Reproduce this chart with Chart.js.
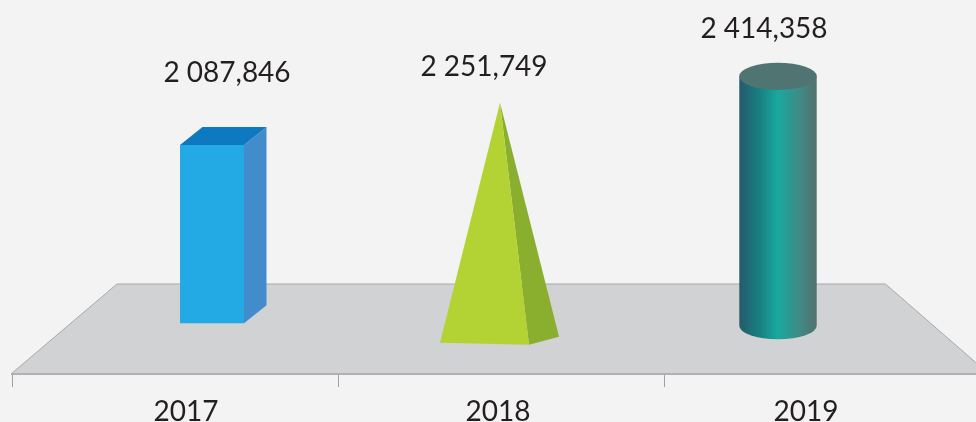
<!DOCTYPE html>
<html>
<head>
<meta charset="utf-8">
<style>
html,body{margin:0;padding:0;background:#f3f3f3;overflow:hidden}
#wrap{position:relative;width:976px;height:422px;overflow:hidden}
</style>
<script src="https://cdn.jsdelivr.net/npm/chart.js@4/dist/chart.umd.js"></script>
</head>
<body>
<div id="wrap"><canvas id="c" width="990" height="422"></canvas></div>
<script>
const categories = ["2017", "2018", "2019"];
const values = [2087.846, 2251.749, 2414.358];
const valueLabels = ["2 087,846", "2 251,749", "2 414,358"];

const FONT = "Lato, Carlito, 'Open Sans', sans-serif";
const TEXT = "#231f20";
// x shift of each shape / label relative to its category centre (perspective of the original)
const shapeDx = [37, -1, -49];
const tickLabelDx = [11, -3, -21];

function drawPoly(ctx, pts, fill) {
  ctx.beginPath();
  pts.forEach((p, i) => i ? ctx.lineTo(p[0], p[1]) : ctx.moveTo(p[0], p[1]));
  ctx.closePath();
  ctx.fillStyle = fill;
  ctx.fill();
}

const shapes = [
  function cuboid(ctx, x, top) {
    const l = x - 32, r = x + 32, bottom = 323.3, dx = 22.5, dy = 18;
    drawPoly(ctx, [[r, top], [r + dx, top - dy], [r + dx, bottom - dy], [r, bottom]], "#438ccb");
    drawPoly(ctx, [[l, top], [l + dx, top - dy], [r + dx, top - dy], [r, top]], "#0d79c0");
    drawPoly(ctx, [[l, top], [r, top], [r, bottom], [l, bottom]], "#23a9e3");
  },
  function pyramid(ctx, x, top) {
    const apex = top - 7;
    drawPoly(ctx, [[x, apex], [x + 59, 336.7], [x + 29, 344.7]], "#8aae2e");
    drawPoly(ctx, [[x, apex], [x + 29, 344.7], [x - 60, 342.7]], "#b3d334");
  },
  function cylinder(ctx, x, top) {
    const rx = 38.7, ry = 13.6, bottom = 325.7, cy = top + 1.3;
    const g = ctx.createLinearGradient(x - rx, 0, x + rx, 0);
    g.addColorStop(0, "#265a6d");
    g.addColorStop(0.26, "#177f80");
    g.addColorStop(0.5, "#19a99f");
    g.addColorStop(0.78, "#3f8a85");
    g.addColorStop(1, "#54706f");
    ctx.beginPath();
    ctx.moveTo(x - rx, cy);
    ctx.lineTo(x - rx, bottom);
    ctx.ellipse(x, bottom, rx, ry, 0, Math.PI, 0, true);
    ctx.lineTo(x + rx, cy);
    ctx.closePath();
    ctx.fillStyle = g;
    ctx.fill();
    ctx.beginPath();
    ctx.ellipse(x, cy, rx, ry, 0, 0, Math.PI * 2);
    ctx.fillStyle = "#4f7472";
    ctx.fill();
  }
];
// label centre relative to the shape's value pixel
const labelOffset = [[15, -72], [-16, -43], [-14, -46]];

const scene = {
  id: "scene",
  beforeDraw(chart) {
    const items = chart.scales.x.getLabelItems();
    if (!items._shifted) {
      items.forEach((it, i) => { it.options.translation[0] += tickLabelDx[i]; });
      items._shifted = true;
    }
  },
  beforeDatasetsDraw(chart) {
    const { ctx, chartArea: a } = chart;
    ctx.save();
    ctx.beginPath();
    ctx.moveTo(a.left - 1, a.bottom);
    ctx.lineTo(117, 284);
    ctx.lineTo(885.5, 284);
    ctx.lineTo(a.right - 1, a.bottom);
    ctx.closePath();
    ctx.fillStyle = "#d1d2d4";
    ctx.fill();
    ctx.strokeStyle = "#a8a8ab";
    ctx.lineWidth = 1;
    ctx.beginPath();
    ctx.moveTo(a.left - 1, a.bottom);
    ctx.lineTo(117, 284);
    ctx.lineTo(885.5, 284);
    ctx.lineTo(a.right - 1, a.bottom);
    ctx.stroke();
    ctx.strokeStyle = "#b1b1b4";
    ctx.lineWidth = 2;
    ctx.beginPath();
    ctx.moveTo(a.left - 1, a.bottom);
    ctx.lineTo(a.right, a.bottom);
    ctx.stroke();
    ctx.restore();
  },
  afterDatasetsDraw(chart) {
    const ctx = chart.ctx;
    chart.getDatasetMeta(0).data.forEach((bar, i) => {
      const x = bar.x + shapeDx[i];
      ctx.save();
      shapes[i](ctx, x, bar.y);
      ctx.fillStyle = TEXT;
      ctx.font = "28px " + FONT;
      ctx.textAlign = "center";
      ctx.textBaseline = "middle";
      ctx.fillText(valueLabels[i], x + labelOffset[i][0], bar.y + labelOffset[i][1]);
      ctx.restore();
    });
  }
};

new Chart(document.getElementById("c"), {
  type: "bar",
  data: {
    labels: categories,
    datasets: [{ data: values, backgroundColor: "rgba(0,0,0,0)", borderWidth: 0 }]
  },
  options: {
    responsive: false,
    animation: false,
    events: [],
    layout: { padding: { left: 12, right: 0, top: 0, bottom: 0 } },
    plugins: { legend: { display: false }, title: { display: false }, tooltip: { enabled: false } },
    scales: {
      y: { display: false, min: 1020, max: 2764 },
      x: {
        afterFit(scale) { scale.height = 48; },
        border: { display: false },
        grid: { drawOnChartArea: false, drawTicks: true, tickLength: 13, color: "#a0a0a3", lineWidth: 1 },
        ticks: { autoSkip: false, maxRotation: 0, padding: 8, color: TEXT, font: { family: FONT, size: 28 } }
      }
    }
  },
  plugins: [scene]
});
</script>
</body>
</html>
